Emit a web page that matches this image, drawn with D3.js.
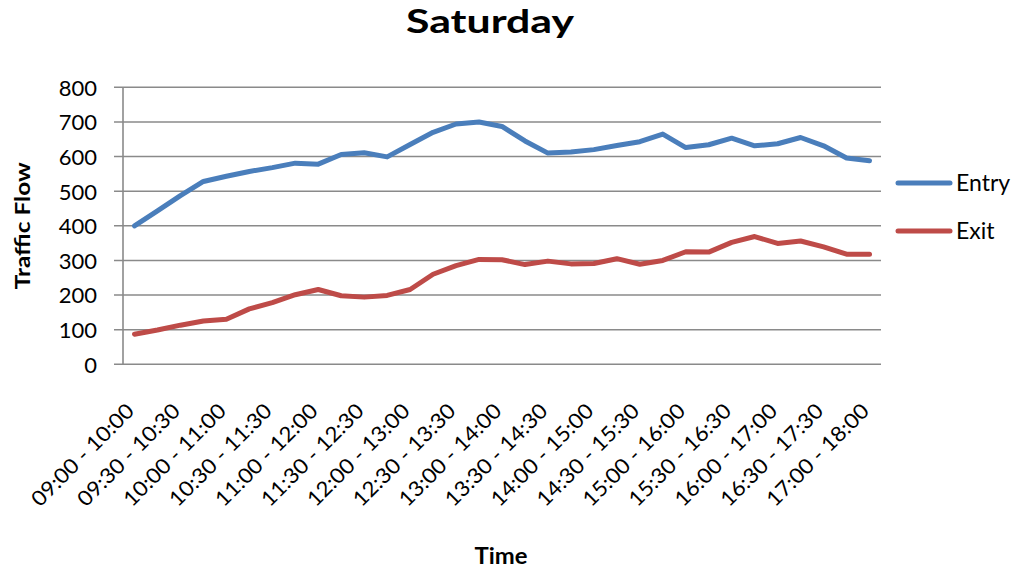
<!DOCTYPE html>
<html>
<head>
<meta charset="utf-8">
<script src="https://cdn.jsdelivr.net/npm/d3@7"></script>
<style>
  html, body { margin: 0; padding: 0; background: #fff; }
  svg { display: block; font-family: Lato, "Open Sans", sans-serif; }
</style>
</head>
<body>
<svg id="chart" width="1018" height="571"></svg>
<script>
// 1-hour rolling windows, every 15 minutes
const categories = [
  "09:00 - 10:00", "09:15 - 10:15", "09:30 - 10:30", "09:45 - 10:45",
  "10:00 - 11:00", "10:15 - 11:15", "10:30 - 11:30", "10:45 - 11:45",
  "11:00 - 12:00", "11:15 - 12:15", "11:30 - 12:30", "11:45 - 12:45",
  "12:00 - 13:00", "12:15 - 13:15", "12:30 - 13:30", "12:45 - 13:45",
  "13:00 - 14:00", "13:15 - 14:15", "13:30 - 14:30", "13:45 - 14:45",
  "14:00 - 15:00", "14:15 - 15:15", "14:30 - 15:30", "14:45 - 15:45",
  "15:00 - 16:00", "15:15 - 16:15", "15:30 - 16:30", "15:45 - 16:45",
  "16:00 - 17:00", "16:15 - 17:15", "16:30 - 17:30", "16:45 - 17:45",
  "17:00 - 18:00"
];
const entry = [
  400, 443, 487, 528, 543, 557, 568, 581, 578, 606, 611, 599, 635, 670, 694, 700, 687,
  645, 610, 613, 620, 632, 643, 665, 626, 634, 653, 631, 637, 655, 631, 596, 588
];
const exit = [
  87, 99, 113, 125, 130, 160, 178, 201, 216, 198, 194, 199, 216, 260, 285, 303, 302,
  288, 298, 290, 291, 305, 289, 300, 325, 324, 352, 369, 349, 356, 339, 318, 318
];
const yTicks = [0, 100, 200, 300, 400, 500, 600, 700, 800];
const seriesNames = ["Entry", "Exit"];
const seriesColors = ["#4A7EBB", "#BE4B48"];

const svg = d3.select("#chart");
const m = { left: 123, right: 881, top: 87.3, bottom: 364.3 };

const x = d3.scaleBand().domain(categories).range([m.left, m.right]).paddingInner(0).paddingOuter(0);
const y = d3.scaleLinear().domain([0, 800]).range([m.bottom, m.top]);
const cx = c => x(c) + x.bandwidth() / 2;

// horizontal gridlines, with the tick stubs left of the value axis
svg.append("g")
  .selectAll("line")
  .data(yTicks)
  .join("line")
  .attr("x1", m.left - 9).attr("x2", m.right)
  .attr("y1", d => y(d)).attr("y2", d => y(d))
  .attr("stroke", "#8a8a8a").attr("stroke-width", 1.6);

// value axis line
svg.append("line")
  .attr("x1", m.left).attr("x2", m.left)
  .attr("y1", m.top).attr("y2", m.bottom)
  .attr("stroke", "#8a8a8a").attr("stroke-width", 1.6);

// value axis labels
const yAxis = d3.axisLeft(y).tickValues(yTicks).tickSize(0).tickPadding(0);
const gy = svg.append("g").attr("transform", `translate(${m.left - 26},0)`).call(yAxis);
gy.select(".domain").remove();
gy.selectAll("text")
  .attr("font-family", "Lato, sans-serif")
  .attr("font-size", 22)
  .attr("fill", "#000")
  .attr("dy", "0.36em");

// category axis labels, every other category, rotated
const xAxis = d3.axisBottom(x)
  .tickValues(categories.filter((d, i) => i % 2 === 0))
  .tickSize(0).tickPadding(0);
const gx = svg.append("g").attr("transform", `translate(0,${m.bottom})`).call(xAxis);
gx.select(".domain").remove();
gx.selectAll(".tick text")
  .attr("font-family", "Lato, sans-serif")
  .attr("font-size", 21)
  .attr("fill", "#000")
  .attr("text-anchor", "end")
  .attr("dy", 0)
  .attr("y", 0)
  .attr("textLength", 135)
  .attr("lengthAdjust", "spacingAndGlyphs")
  .attr("transform", "translate(1,48) rotate(-45)");

// series lines
const line = d3.line()
  .x((d, i) => cx(categories[i]))
  .y(d => y(d));

[entry, exit].forEach((vals, k) => {
  svg.append("path")
    .datum(vals)
    .attr("d", line)
    .attr("fill", "none")
    .attr("stroke", seriesColors[k])
    .attr("stroke-width", 5)
    .attr("stroke-linejoin", "round")
    .attr("stroke-linecap", "round");
});

// legend
const legend = svg.append("g");
seriesNames.forEach((name, k) => {
  const ly = 183 + k * 48;
  legend.append("line")
    .attr("x1", 898).attr("x2", 950)
    .attr("y1", ly).attr("y2", ly)
    .attr("stroke", seriesColors[k])
    .attr("stroke-width", 5)
    .attr("stroke-linecap", "round");
  legend.append("text")
    .attr("x", 956).attr("y", ly)
    .attr("dy", "0.36em")
    .attr("font-size", 23)
    .attr("fill", "#000")
    .text(name);
});

// title
svg.append("text")
  .attr("x", 490).attr("y", 33)
  .attr("text-anchor", "middle")
  .attr("font-size", 33)
  .attr("font-weight", "bold")
  .attr("textLength", 168)
  .attr("lengthAdjust", "spacingAndGlyphs")
  .text("Saturday");

// axis titles
svg.append("text")
  .attr("transform", `translate(30,${(m.top + m.bottom) / 2}) rotate(-90)`)
  .attr("text-anchor", "middle")
  .attr("font-size", 21)
  .attr("font-weight", "bold")
  .attr("textLength", 127)
  .attr("lengthAdjust", "spacingAndGlyphs")
  .text("Traffic Flow");

svg.append("text")
  .attr("x", 501).attr("y", 564)
  .attr("text-anchor", "middle")
  .attr("font-size", 22)
  .attr("font-weight", "bold")
  .attr("textLength", 53)
  .attr("lengthAdjust", "spacingAndGlyphs")
  .text("Time");
</script>
</body>
</html>
